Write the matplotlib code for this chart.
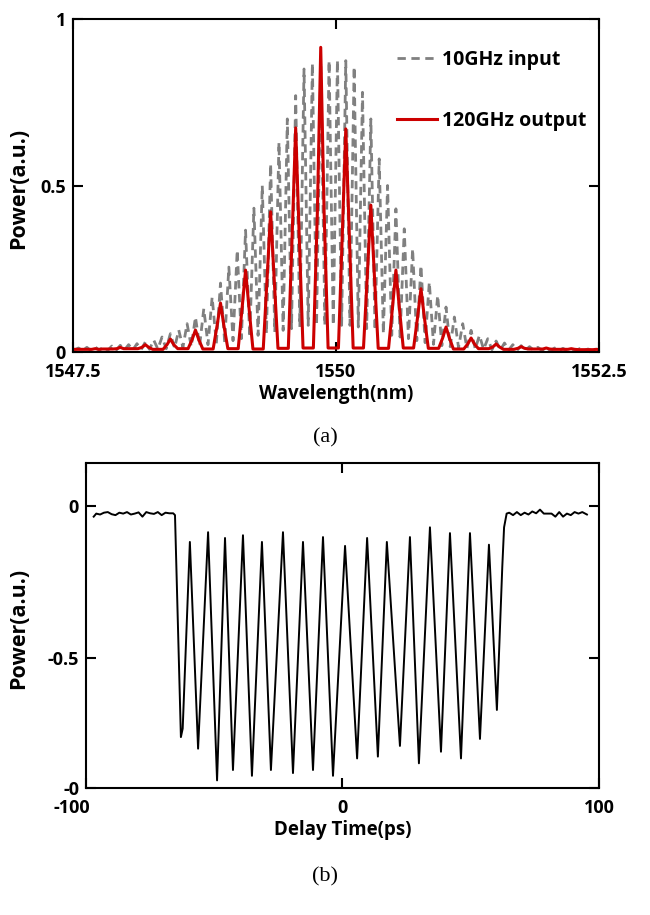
import numpy as np
import matplotlib
matplotlib.use('Agg')
import matplotlib.pyplot as plt
import matplotlib.transforms as mtransforms

# ---- (a) spectrum data ----
# 10 GHz comb lines, index k=-29..33, step 0.0794 nm from 1549.855
comb_start = 1549.855 - 29 * 0.0794
comb_step = 0.0794
gray_peak = [0.012, 0.014, 0.015, 0.016, 0.018, 0.020, 0.022, 0.025, 0.030, 0.036,
             0.045, 0.055, 0.066, 0.085, 0.105, 0.130, 0.165, 0.207, 0.255, 0.306,
             0.366, 0.432, 0.500, 0.565, 0.630, 0.700, 0.770, 0.850, 0.867, 0.870,
             0.875, 0.877, 0.875, 0.857, 0.780, 0.700, 0.580, 0.500, 0.430, 0.370,
             0.310, 0.260, 0.210, 0.170, 0.135, 0.105, 0.085, 0.065, 0.050, 0.040,
             0.033, 0.027, 0.022, 0.019, 0.016, 0.014, 0.013, 0.012, 0.011, 0.010,
             0.010, 0.009, 0.009]
gray_valley = [0.004, 0.004, 0.005, 0.005, 0.005, 0.006, 0.006, 0.007, 0.008, 0.009,
               0.010, 0.012, 0.014, 0.016, 0.019, 0.022, 0.026, 0.030, 0.034, 0.040,
               0.045, 0.050, 0.055, 0.060, 0.065, 0.070, 0.075, 0.080, 0.080, 0.080,
               0.080, 0.080, 0.080, 0.075, 0.070, 0.065, 0.055, 0.050, 0.045, 0.040,
               0.034, 0.028, 0.023, 0.019, 0.016, 0.013, 0.011, 0.009, 0.008, 0.007,
               0.006, 0.006, 0.005, 0.005, 0.005, 0.004, 0.004, 0.004, 0.004, 0.004,
               0.004, 0.004]

# 120 GHz output peaks (every third comb line, k=-27..33)
red_peak = [0.010, 0.014, 0.022, 0.039, 0.066, 0.147, 0.246, 0.421, 0.673, 0.915,
            0.670, 0.441, 0.246, 0.190, 0.075, 0.042, 0.024, 0.016, 0.012, 0.010, 0.008]
red_shoulder = [0.008, 0.010, 0.014, 0.022, 0.037, 0.080, 0.135, 0.230, 0.365, 0.420,
                0.365, 0.240, 0.135, 0.105, 0.042, 0.024, 0.015, 0.011, 0.009, 0.008, 0.007]
red_floor = [0.008, 0.009, 0.010, 0.008, 0.010, 0.009, 0.010, 0.009, 0.011, 0.012, 0.012,
             0.012, 0.011, 0.012, 0.011, 0.009, 0.010, 0.008, 0.009, 0.008, 0.007, 0.007]
red_half = 0.032
red_foot = 0.07

# ---- (b) delay trace ----
t_left = [-97, -96, -94.5, -93, -91.5, -90, -88.5, -87, -85.5, -84, -82.5, -81,
          -79.5, -78, -76.5, -75, -73.5, -72, -70.5, -69, -67.5, -66, -65.3]
v_left = [-0.035, -0.025, -0.028, -0.022, -0.020, -0.027, -0.030, -0.022, -0.025, -0.020,
          -0.028, -0.025, -0.021, -0.035, -0.020, -0.024, -0.026, -0.020, -0.030, -0.022,
          -0.024, -0.024, -0.030]
t_osc = [-63.0, -62.3, -59.5, -56.3, -52.4, -48.9, -45.8, -42.7, -38.8, -35.3, -31.4,
         -27.9, -23.2, -19.3, -15.4, -11.5, -7.6, -3.7, 1.0, 5.7, 9.6, 13.8, 17.3,
         22.4, 26.3, 29.8, 34.1, 38.4, 41.9, 46.2, 49.7, 53.6, 57.1, 60.2, 62.3, 63.0]
v_osc = [-0.758, -0.730, -0.118, -0.796, -0.086, -0.900, -0.105, -0.866, -0.096, -0.885,
         -0.118, -0.866, -0.086, -0.876, -0.118, -0.866, -0.102, -0.885, -0.131, -0.828,
         -0.105, -0.822, -0.118, -0.787, -0.102, -0.844, -0.070, -0.806, -0.089, -0.828,
         -0.089, -0.764, -0.127, -0.669, -0.200, -0.070]
t_right = [64, 65, 66.5, 68, 69.5, 71, 72.5, 74, 75.5, 77, 78.5, 80, 81.5, 83, 84.5,
           86, 87.5, 89, 90.5, 92, 93.5, 95.3]
v_right = [-0.025, -0.022, -0.030, -0.020, -0.030, -0.022, -0.028, -0.018, -0.024, -0.012,
           -0.025, -0.025, -0.025, -0.035, -0.020, -0.035, -0.025, -0.030, -0.020, -0.025,
           -0.020, -0.028]

# build polylines
comb_wl = comb_start + comb_step * np.arange(len(gray_peak))
gx, gy = [1547.5], [gray_valley[0]]
for i, h in enumerate(gray_peak):
    gx.append(comb_wl[i]); gy.append(h)
    if i < len(gray_valley):
        gx.append(comb_wl[i] + comb_step / 2); gy.append(gray_valley[i])
gx.append(1552.5); gy.append(gray_valley[-1])

red_wl = comb_wl[2::3]
rx, ry = [1547.5], [red_floor[0]]
for i, h in enumerate(red_peak):
    c = red_wl[i]
    rx += [c - red_foot, c - red_half, c, c + red_half, c + red_foot]
    ry += [red_floor[i], red_shoulder[i], h, red_shoulder[i], red_floor[i + 1]]
rx.append(1552.5); ry.append(red_floor[-1])

t_all = t_left + t_osc + t_right
v_all = v_left + v_osc + v_right

plt.rcParams['font.family'] = ['Open Sans', 'DejaVu Sans']
plt.rcParams['font.weight'] = 'bold'

fig = plt.figure(figsize=(6.5, 9.15), dpi=100)
ax1 = fig.add_axes([0.1123, 0.6153, 0.8092, 0.3639])
ax2 = fig.add_axes([0.1323, 0.1388, 0.7892, 0.3552])

ax1.plot(gx, gy, color='#808080', lw=2, dashes=(3, 2), label='10GHz input')
ax1.plot(rx, ry, color='#cc0000', lw=2.2, label='120GHz output')
ax1.set_xlim(1547.5, 1552.5)
ax1.set_ylim(0, 1)
ax1.set_xticks([1547.5, 1550, 1552.5])
ax1.set_xticklabels(['1547.5', '1550', '1552.5'])
ax1.set_yticks([0, 0.5, 1])
ax1.set_yticklabels(['0', '0.5', '1'])
ax1.set_xlabel('Wavelength(nm)', fontsize=13.5, fontweight='bold', labelpad=2)
ax1.set_ylabel('Power(a.u.)', fontsize=15.5, fontweight='bold')
ax1.yaxis.set_label_coords(-0.084, 0.49)
leg = ax1.legend(loc='upper right', bbox_to_anchor=(1.01, 0.96), frameon=False,
                 fontsize=14, handlelength=2.1, labelspacing=2.1, handletextpad=0.25)

ax2.plot(t_all, v_all, color='black', lw=1.4)
ax2.set_xlim(-100, 100)
ax2.set_ylim(-0.925, 0.141)
ax2.set_xticks([-100, 0, 100])
ax2.set_xticklabels(['-100', '0', '100'])
ax2.set_yticks([-0.925, -0.5, 0])
ax2.set_yticklabels(['-0', '-0.5', '0'])
ax2.set_xlabel('Delay Time(ps)', fontsize=13.5, fontweight='bold', labelpad=2)
ax2.set_ylabel('Power(a.u.)', fontsize=15.5, fontweight='bold')
ax2.yaxis.set_label_coords(-0.11, 0.49)

for ax in (ax1, ax2):
    for s in ax.spines.values():
        s.set_linewidth(1.5)
    ax.tick_params(direction='in', length=7, width=1.5, top=True, right=True,
                   labelsize=13)
    ax.tick_params(axis='x', pad=8)
    ax.tick_params(axis='y', pad=5)
    for lab in ax.get_xticklabels() + ax.get_yticklabels():
        lab.set_fontweight('bold')

# the -100 label sits a little left of its tick in the original
lab = ax2.get_xticklabels()[0]
lab.set_transform(lab.get_transform() + mtransforms.ScaledTranslation(-10 / 72, 0, fig.dpi_scale_trans))

fig.text(0.5, 1 - 438 / 915, '(a)', ha='center', va='center', fontsize=16,
         family='Liberation Serif', fontweight='normal')
fig.text(0.5, 1 - 877 / 915, '(b)', ha='center', va='center', fontsize=16,
         family='Liberation Serif', fontweight='normal')

fig.savefig('out.png', dpi=100)
